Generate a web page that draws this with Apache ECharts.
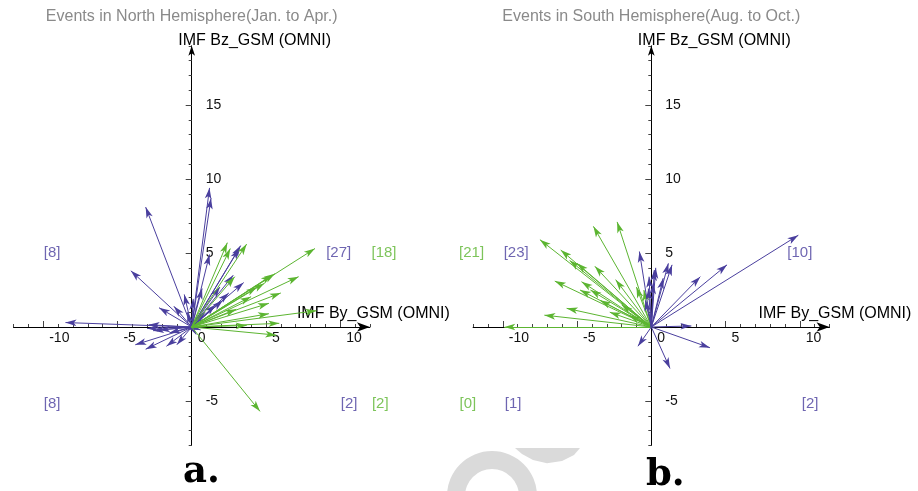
<!DOCTYPE html>
<html><head><meta charset="utf-8">
<script src="https://cdn.jsdelivr.net/npm/echarts@6/dist/echarts.min.js"></script>
<style>html,body{margin:0;padding:0;background:#fff}#c{width:918px;height:491px}</style>
</head><body><div id="c"></div>
<script>
// ---------- data ----------
const panelTitles = ['Events in North Hemisphere(Jan. to Apr.)', 'Events in South Hemisphere(Aug. to Oct.)'];
const panelLetters = ['a.', 'b.'];
const xName = 'IMF By_GSM (OMNI)';
const yName = 'IMF Bz_GSM (OMNI)';
const xTickLabels = [-10, -5, 0, 5, 10];
const yTickLabels = [-5, 5, 10, 15];
const xMajorTicks = [-10, -5, 5, 10];
const yMajorTicks = [-5, 5, 10, 15];

// IMF [By, Bz] vectors (nT)
const northBlue = [
  [-3.1, 8.1], [-4.1, 3.8], [-2.2, 1.3], [-8.5, 0.3], [-2.9, 0.15], [-1.2, 1.4], [-0.5, 2.2], [-0.3, 1.0],
  [-3.8, -1.2], [-3.1, -1.5], [-1.7, -1.3], [-1.0, -1.2], [-3.0, -0.1], [-2.6, -0.25], [-2.2, -0.2], [-1.5, -0.4],
  [1.2, 9.4], [1.3, 8.7], [1.2, 4.9], [0.1, 1.9], [3.3, 5.5], [3.2, 5.3], [2.8, 3.5], [3.5, 3.0], [2.1, 1.8],
  [2.5, 2.3], [1.6, 1.5], [0.7, 2.6], [0.9, 1.0], [1.9, 2.7], [0.4, 0.7],
  [0.3, -0.5], [0.6, -0.2]
];
const northGreen = [
  [8.3, 5.3], [7.2, 3.4], [5.6, 3.6], [5.4, 3.5], [4.9, 2.95], [4.4, 2.7], [4.0, 2.05], [5.2, 1.6], [8.4, 1.1],
  [5.2, 0.9], [5.9, 0.25], [3.7, 0.1], [2.4, 5.7], [3.7, 5.6], [2.6, 5.3], [2.9, 3.4], [3.0, 1.2], [6.0, 2.3],
  [4.6, -5.7], [5.7, -0.55]
];
const southGreen = [
  [-7.5, 5.9], [-6.1, 5.2], [-6.5, 3.1], [-7.2, 0.8], [-5.7, 1.26], [-9.9, 0.0], [-3.9, 6.8], [-2.3, 7.1],
  [-4.7, 3.06], [-4.8, 2.5], [-3.8, 4.1], [-2.4, 3.2], [-5.5, 4.5], [-5.0, 4.3], [-3.45, 1.8], [-2.8, 1.0],
  [-1.0, 2.7], [-0.5, 2.5], [-4.1, 2.5], [-2.0, 1.5], [-1.5, 0.8]
];
const southBlue = [
  [9.9, 6.2], [5.1, 4.2], [3.3, 3.4], [2.7, 0.07], [1.15, 4.3], [1.4, 4.2], [0.3, 4.0], [0.13, 2.95], [0.8, 3.3], [0.2, 3.85],
  [-0.8, 5.1], [-0.2, 2.6], [-0.4, 1.8], [-0.15, 3.4],
  [-0.9, -1.3],
  [3.95, -1.4], [1.26, -2.8]
];

// quadrant counts: [upper-left, upper-right, lower-left, lower-right]
const northBlueCounts = [8, 27, 8, 2];
const northGreenCounts = [null, 18, null, 2];
const southBlueCounts = [23, 10, 1, 2];
const southGreenCounts = [21, null, 0, null];

// ---------- chart ----------
const BLUE = '#4a3f9e';
const GREEN = '#5cb531';
const FONT = 'Liberation Sans, Arial, sans-serif';
const X_MIN = -12, X_MAX = 12, Y_MIN = -8, Y_MAX = 19;

const GRID_TOP = 45.8, GRID_W = 356.4, GRID_H = 399.6;
const gridLefts = [13.5, 473.1];
const grids = gridLefts.map(l => ({ left: l, top: GRID_TOP, width: GRID_W, height: GRID_H, containLabel: false, outerBoundsMode: 'none' }));
// shift the axes from the grid edge onto the zero lines
const xAxisOffset = -GRID_H * (0 - Y_MIN) / (Y_MAX - Y_MIN);
const yAxisOffset = -GRID_W * (0 - X_MIN) / (X_MAX - X_MIN);

const xAxes = [], yAxes = [];
[0, 1].forEach(gi => {
  xAxes.push({
    gridIndex: gi, type: 'value', min: X_MIN, max: X_MAX, interval: 1, position: 'bottom', offset: xAxisOffset,
    axisLine: { onZero: false, lineStyle: { color: '#000', width: 1 }, symbol: ['none', 'arrow'], symbolSize: [7, 13] },
    axisTick: { inside: true, length: 3, lineStyle: { color: '#444' } },
    axisLabel: {
      formatter: v => xTickLabels.includes(v) ? String(v) : '',
      color: '#111', fontSize: 14, fontFamily: FONT, align: 'left', padding: [0, 0, 0, 6], margin: 4
    },
    splitLine: { show: false },
    name: xName, nameLocation: 'end', nameGap: gi === 0 ? -73 : -71, nameMoveOverlap: false,
    nameTextStyle: { fontSize: 16, color: '#000', fontFamily: FONT, align: 'left', verticalAlign: 'bottom', padding: [0, 0, 5, 0] }
  });
  xAxes.push({
    gridIndex: gi, type: 'value', min: X_MIN, max: X_MAX, position: 'bottom', offset: xAxisOffset,
    axisLine: { show: false, onZero: false },
    axisTick: { show: true, inside: true, length: 6, customValues: xMajorTicks, lineStyle: { color: '#444' } },
    axisLabel: { show: false }, splitLine: { show: false }
  });
  yAxes.push({
    gridIndex: gi, type: 'value', min: Y_MIN, max: Y_MAX, interval: 1, position: 'left', offset: yAxisOffset,
    axisLine: { onZero: false, lineStyle: { color: '#000', width: 1 }, symbol: ['none', 'arrow'], symbolSize: [5, 10] },
    axisTick: { inside: false, length: 3, lineStyle: { color: '#444' } },
    axisLabel: {
      inside: true, formatter: v => yTickLabels.includes(v) ? String(v) : '',
      color: '#111', fontSize: 14, fontFamily: FONT, margin: 14
    },
    splitLine: { show: false },
    name: yName, nameLocation: 'end', nameGap: -3, nameMoveOverlap: false,
    nameTextStyle: { fontSize: 16, color: '#000', fontFamily: FONT, align: 'center', verticalAlign: 'bottom', padding: [0, 0, 0, 126] }
  });
  yAxes.push({
    gridIndex: gi, type: 'value', min: Y_MIN, max: Y_MAX, position: 'left', offset: yAxisOffset,
    axisLine: { show: false, onZero: false },
    axisTick: { show: true, inside: false, length: 6, customValues: yMajorTicks, lineStyle: { color: '#444' } },
    axisLabel: { show: false }, splitLine: { show: false }
  });
});

function arrowSeries(gi, vecs, color) {
  return {
    type: 'lines', coordinateSystem: 'cartesian2d', xAxisIndex: gi * 2, yAxisIndex: gi * 2,
    symbol: ['none', 'arrow'], symbolSize: [0, [5, 11]], silent: true, z: 3,
    lineStyle: { color: color, width: 1, opacity: 1 },
    data: vecs.map(p => ({ coords: [[0, 0], p] }))
  };
}

// anchors (data units) of the quadrant count annotations
const anchorSets = {
  northBlue: [[-9.4, 5], [9.9, 5], [-9.4, -5.2], [10.6, -5.2]],
  northGreen: [null, [12.95, 5], null, [12.7, -5.2]],
  southBlue: [[-9.1, 5], [10.0, 5], [-9.3, -5.2], [10.7, -5.2]],
  southGreen: [[-12.1, 5], null, [-12.35, -5.2], null]
};
function countSeries(gi, counts, anchors, color) {
  const data = [];
  counts.forEach((c, i) => {
    if (c === null) return;
    data.push({ value: anchors[i], label: { formatter: '[' + c + ']' } });
  });
  return {
    type: 'scatter', xAxisIndex: gi * 2, yAxisIndex: gi * 2, symbolSize: 1, clip: false, silent: true,
    itemStyle: { color: 'rgba(0,0,0,0)' },
    label: { show: true, position: 'inside', color: color, fontSize: 15, fontFamily: FONT },
    data: data
  };
}

const series = [
  arrowSeries(0, northBlue, BLUE),
  arrowSeries(0, northGreen, GREEN),
  arrowSeries(1, southGreen, GREEN),
  arrowSeries(1, southBlue, BLUE),
  countSeries(0, northBlueCounts, anchorSets.northBlue, BLUE),
  countSeries(0, northGreenCounts, anchorSets.northGreen, GREEN),
  countSeries(1, southBlueCounts, anchorSets.southBlue, BLUE),
  countSeries(1, southGreenCounts, anchorSets.southGreen, GREEN)
];

const originX = gridLefts.map(l => l - yAxisOffset);
const graphic = [
  { type: 'ring', shape: { cx: 492, cy: 496, r: 45, r0: 27 }, style: { fill: '#dadada' }, z: -10, silent: true },
  { type: 'polygon', shape: { points: [[515, 448], [580, 448], [574, 455], [562, 461], [547, 463.3], [533, 460], [522, 454]] }, style: { fill: '#dadada' }, z: -10, silent: true }
];
panelTitles.forEach((t, i) => {
  graphic.push({ type: 'text', x: originX[i], y: 17, style: { text: t, align: 'center', verticalAlign: 'middle', fill: '#8a8a8a', font: '16px ' + FONT }, silent: true });
});
panelLetters.forEach((t, i) => {
  graphic.push({ type: 'text', x: [183, 646][i], y: [472, 475][i], style: { text: t, align: 'left', verticalAlign: 'middle', fill: '#000', font: 'bold 37px "DejaVu Serif", serif' }, silent: true });
});

const chart = echarts.init(document.getElementById('c'), null, { renderer: 'canvas' });
chart.setOption({
  animation: false,
  backgroundColor: '#fff',
  textStyle: { fontFamily: FONT },
  grid: grids,
  xAxis: xAxes,
  yAxis: yAxes,
  series: series,
  graphic: graphic
});
</script>
</body></html>
